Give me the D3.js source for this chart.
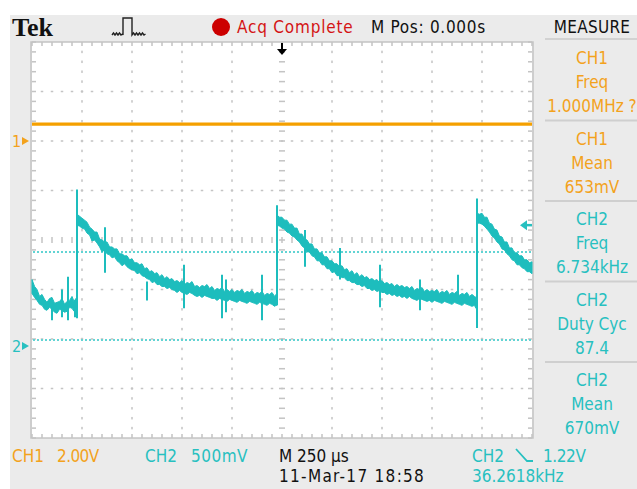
<!DOCTYPE html>
<html>
<head>
<meta charset="utf-8">
<script src="https://cdn.jsdelivr.net/npm/d3@7"></script>
<style>
  html, body { margin: 0; padding: 0; background: #fff; }
  svg { display: block; }
  text { font-family: "DejaVu Sans Condensed", "Liberation Sans Narrow", "DejaVu Sans", sans-serif; font-stretch: condensed; }
</style>
</head>
<body>
<svg id="scope" width="637" height="489"></svg>
<script>
// ---------------- DATA ----------------
// CH2 trace noise band: [time µs, low V, high V]
const ch2Band = [
  [-1250,0.53,0.67],[-1237,0.49,0.60],[-1225,0.46,0.57],[-1212,0.42,0.50],[-1200,0.41,0.52],[-1187,0.37,0.47],
  [-1175,0.36,0.44],[-1162,0.39,0.48],[-1150,0.37,0.49],[-1137,0.34,0.43],[-1125,0.33,0.44],[-1112,0.37,0.45],
  [-1100,0.36,0.48],[-1087,0.34,0.42],[-1075,0.35,0.45],[-1062,0.39,0.46],[-1050,0.38,0.50],[-1040,0.35,0.45],
  [-1030,0.37,0.48],[-1026,0.36,0.46],[-1025,1.22,1.33],[-1012,1.21,1.31],[-1000,1.19,1.29],[-987,1.18,1.27],
  [-975,1.14,1.25],[-962,1.12,1.20],[-950,1.06,1.18],[-937,1.07,1.15],[-925,1.04,1.15],[-912,1.00,1.08],
  [-900,0.95,1.07],[-887,0.97,1.05],[-875,0.93,1.05],[-862,0.92,1.00],[-850,0.89,1.00],[-837,0.90,0.98],
  [-825,0.86,0.98],[-812,0.84,0.93],[-800,0.81,0.93],[-787,0.83,0.91],[-775,0.80,0.91],[-762,0.78,0.87],
  [-750,0.77,0.88],[-737,0.76,0.84],[-725,0.73,0.84],[-712,0.74,0.82],[-700,0.71,0.83],[-687,0.70,0.78],
  [-675,0.68,0.79],[-662,0.67,0.75],[-650,0.64,0.76],[-637,0.65,0.73],[-625,0.62,0.74],[-612,0.62,0.70],
  [-600,0.60,0.72],[-587,0.60,0.68],[-575,0.58,0.70],[-562,0.59,0.67],[-550,0.57,0.68],[-537,0.56,0.65],
  [-525,0.54,0.66],[-512,0.56,0.64],[-500,0.54,0.66],[-487,0.53,0.62],[-475,0.52,0.64],[-462,0.54,0.63],
  [-450,0.53,0.65],[-437,0.51,0.60],[-425,0.50,0.61],[-412,0.51,0.59],[-400,0.49,0.61],[-387,0.51,0.60],
  [-375,0.50,0.62],[-362,0.49,0.58],[-350,0.48,0.60],[-337,0.48,0.56],[-325,0.46,0.58],[-312,0.48,0.57],
  [-300,0.47,0.59],[-287,0.46,0.55],[-275,0.45,0.57],[-262,0.47,0.55],[-250,0.46,0.57],[-237,0.45,0.54],
  [-225,0.44,0.56],[-212,0.46,0.55],[-200,0.45,0.57],[-187,0.44,0.53],[-175,0.43,0.55],[-162,0.45,0.54],
  [-150,0.44,0.56],[-137,0.43,0.52],[-125,0.42,0.54],[-112,0.44,0.53],[-100,0.43,0.55],[-87,0.42,0.51],
  [-75,0.41,0.53],[-62,0.43,0.52],[-50,0.42,0.54],[-37,0.40,0.50],[-30,0.41,0.52],[-26,0.41,0.50],
  [-25,1.22,1.32],[-12,1.21,1.30],[0,1.19,1.30],[12,1.18,1.27],[25,1.15,1.27],[37,1.14,1.23],
  [50,1.11,1.23],[62,1.10,1.19],[75,1.07,1.19],[87,1.05,1.13],[100,1.01,1.13],[112,0.99,1.08],
  [125,0.95,1.07],[137,0.95,1.03],[150,0.91,1.03],[162,0.90,0.98],[175,0.86,0.98],[187,0.86,0.94],
  [200,0.82,0.94],[212,0.82,0.90],[225,0.78,0.90],[237,0.78,0.86],[250,0.74,0.86],[262,0.75,0.83],
  [275,0.71,0.83],[287,0.71,0.80],[300,0.69,0.81],[312,0.69,0.77],[325,0.66,0.78],[337,0.66,0.74],
  [350,0.64,0.76],[362,0.64,0.72],[375,0.62,0.74],[387,0.62,0.70],[400,0.60,0.72],[412,0.61,0.69],
  [425,0.58,0.70],[437,0.58,0.67],[450,0.56,0.68],[462,0.57,0.66],[475,0.55,0.67],[487,0.56,0.64],
  [500,0.54,0.66],[512,0.54,0.63],[525,0.52,0.64],[537,0.53,0.62],[550,0.51,0.63],[562,0.52,0.60],
  [575,0.50,0.62],[587,0.51,0.60],[600,0.49,0.61],[612,0.50,0.59],[625,0.48,0.60],[637,0.50,0.58],
  [650,0.48,0.60],[662,0.47,0.56],[675,0.46,0.58],[687,0.48,0.57],[700,0.47,0.59],[712,0.46,0.55],
  [725,0.45,0.57],[737,0.46,0.55],[750,0.44,0.56],[762,0.46,0.55],[775,0.45,0.57],[787,0.44,0.53],
  [800,0.43,0.55],[812,0.45,0.54],[825,0.44,0.56],[837,0.43,0.52],[850,0.42,0.54],[862,0.44,0.53],
  [875,0.43,0.55],[887,0.42,0.51],[900,0.41,0.53],[912,0.43,0.52],[925,0.42,0.54],[937,0.41,0.50],
  [950,0.40,0.52],[962,0.41,0.50],[970,0.38,0.49],[974,0.40,0.48],[975,1.24,1.34],[987,1.24,1.33],
  [1000,1.23,1.34],[1012,1.21,1.30],[1025,1.18,1.30],[1037,1.15,1.24],[1050,1.11,1.23],[1062,1.09,1.18],
  [1075,1.05,1.17],[1087,1.03,1.11],[1100,0.98,1.10],[1112,0.97,1.05],[1125,0.93,1.05],[1137,0.91,0.99],
  [1150,0.87,0.99],[1162,0.86,0.94],[1175,0.82,0.94],[1187,0.82,0.91],[1200,0.79,0.91],[1212,0.78,0.87],
  [1225,0.75,0.87],[1237,0.75,0.84],[1250,0.73,0.85]
];
// CH2 glitches: [time µs, low V, high V]
const ch2Spikes = [
  [-1150,0.26,0.46],[-1100,0.29,0.57],[-1070,0.26,0.70],[-1035,0.29,0.46],[-1025,0.28,1.58],
  [-885,0.74,1.20],[-675,0.46,0.65],[-490,0.38,0.82],[-300,0.28,0.72],[-280,0.34,0.67],
  [-100,0.26,0.72],[-25,0.41,1.42],[115,0.80,1.17],[290,0.67,0.99],[490,0.39,0.82],
  [690,0.36,0.67],[880,0.43,0.72],[975,0.18,1.49]
];
// CH1 trace level (V) across the screen
const ch1Trace = [[-1250,0.68],[1250,0.68]];
// CH2 cursor levels (V)
const ch2Cursors = [0.95, 0.06];
const ch2TriggerLevel = 1.22;
// channel settings
const ch1VoltsPerDiv = 2.0, ch1OffsetDiv = 2.0;
const ch2VoltsPerDiv = 0.5, ch2OffsetDiv = -2.14;
const timePerDiv = 250;

// measurement panel
const measureBoxes = [
  {ch: "CH1", lines: ["CH1", "Freq", "1.000MHz ?"]},
  {ch: "CH1", lines: ["CH1", "Mean", "653mV"]},
  {ch: "CH2", lines: ["CH2", "Freq", "6.734kHz"]},
  {ch: "CH2", lines: ["CH2", "Duty Cyc", "87.4"]},
  {ch: "CH2", lines: ["CH2", "Mean", "670mV"]}
];
const topLabels = {tek: "Tek", acq: "Acq Complete", mpos: "M Pos: 0.000s", measure: "MEASURE"};
const bottomLabels = [
  {text: "CH1", x: 12, row: 0, ch: "CH1", ls: 0}, {text: "2.00V", x: 57, row: 0, ch: "CH1", ls: -0.6},
  {text: "CH2", x: 145, row: 0, ch: "CH2", ls: 0}, {text: "500mV", x: 191, row: 0, ch: "CH2", ls: 0.5},
  {text: "M 250 µs", x: 279, row: 0, ch: "K", ls: 0}, {text: "11-Mar-17 18:58", x: 279, row: 1, ch: "K", ls: 1.3},
  {text: "CH2", x: 472, row: 0, ch: "CH2", ls: 0}, {text: "1.22V", x: 543, row: 0, ch: "CH2", ls: -0.4},
  {text: "36.2618kHz", x: 472, row: 1, ch: "CH2", ls: 0}
];

// ---------------- STYLE ----------------
const COL = {CH1: "#f3a21c", CH2: "#27c0c0", K: "#111", bg: "#ebebeb", grid: "#c4c4c4"};
const TRACE1 = "#f5a000", TRACE2 = "#1dbdbd", CURSOR2 = "#62d4d4";

const svg = d3.select("#scope");
const W = 637, H = 489;
const L = 32, R = 532, T = 42, B = 438;

svg.append("rect").attr("width", W).attr("height", H).attr("fill", "#fff");
svg.append("rect").attr("x", 10).attr("y", 15).attr("width", W - 10).attr("height", H - 15).attr("fill", COL.bg);

// scales
const xDiv = d3.scaleLinear().domain([-5, 5]).range([L, R]);
const yDiv = d3.scaleLinear().domain([-4, 4]).range([B, T]);
const xT = d3.scaleLinear().domain([-5 * timePerDiv, 5 * timePerDiv]).range([L, R]);
const y2 = v => yDiv(v / ch2VoltsPerDiv + ch2OffsetDiv);
const y1 = v => yDiv(v / ch1VoltsPerDiv + ch1OffsetDiv);

// graticule
svg.append("rect").attr("x", L).attr("y", T).attr("width", R - L).attr("height", B - T).attr("fill", "#fff");
const g = svg.append("g");
const minorX = d3.range(-5, 5.0001, 0.2);
const minorY = d3.range(-4, 4.0001, 0.2);
d3.range(-4, 5).filter(d => d !== 0).forEach(d => {
  g.selectAll(null).data(minorY.slice(1, -1)).enter().append("rect")
    .attr("x", xDiv(d) - 0.75).attr("y", v => yDiv(v) - 1.25).attr("width", 1.5).attr("height", 2.5).attr("fill", COL.grid);
});
d3.range(-3, 4).filter(d => d !== 0).forEach(d => {
  g.selectAll(null).data(minorX.slice(1, -1)).enter().append("rect")
    .attr("y", yDiv(d) - 0.75).attr("x", v => xDiv(v) - 1.25).attr("height", 1.5).attr("width", 2.5).attr("fill", COL.grid);
});
g.selectAll(null).data(minorY.slice(1, -1)).enter().append("rect")
  .attr("x", xDiv(0) - 3).attr("y", v => yDiv(v) - 0.75).attr("width", 6).attr("height", 1.5).attr("fill", COL.grid);
g.selectAll(null).data(minorX.slice(1, -1)).enter().append("rect")
  .attr("y", yDiv(0) - 3).attr("x", v => xDiv(v) - 0.75).attr("height", 6).attr("width", 1.5).attr("fill", COL.grid);
g.selectAll(null).data(minorX).enter().append("rect")
  .attr("x", v => xDiv(v) - 0.75).attr("y", T).attr("width", 1.5).attr("height", 4).attr("fill", COL.grid);
g.selectAll(null).data(minorX).enter().append("rect")
  .attr("x", v => xDiv(v) - 0.75).attr("y", B - 4).attr("width", 1.5).attr("height", 4).attr("fill", COL.grid);
g.selectAll(null).data(minorY).enter().append("rect")
  .attr("x", L).attr("y", v => yDiv(v) - 0.75).attr("width", 4).attr("height", 1.5).attr("fill", COL.grid);
g.selectAll(null).data(minorY).enter().append("rect")
  .attr("x", R - 4).attr("y", v => yDiv(v) - 0.75).attr("width", 4).attr("height", 1.5).attr("fill", COL.grid);
svg.append("rect").attr("x", L - 1).attr("y", T).attr("width", R - L + 2).attr("height", B - T)
  .attr("fill", "none").attr("stroke", "#c4c4c4").attr("stroke-width", 1.5);

// CH2 cursors
svg.selectAll(".cur").data(ch2Cursors).enter().append("line")
  .attr("x1", L + 1).attr("x2", R).attr("y1", v => y2(v)).attr("y2", v => y2(v))
  .attr("stroke", CURSOR2).attr("stroke-width", 2).attr("stroke-dasharray", "2,2");

// CH1 trace
svg.append("path").datum(ch1Trace)
  .attr("d", d3.line().x(d => xT(d[0])).y(d => y1(d[1])))
  .attr("stroke", TRACE1).attr("stroke-width", 3.2).attr("fill", "none");

// CH2 trace (noise band + glitches)
svg.append("path").datum(ch2Band)
  .attr("d", d3.area().x(d => xT(d[0])).y0(d => y2(d[1])).y1(d => y2(d[2])))
  .attr("fill", TRACE2).attr("stroke", TRACE2).attr("stroke-width", 1).attr("stroke-linejoin", "round");
svg.selectAll(".spk").data(ch2Spikes).enter().append("line")
  .attr("x1", d => xT(d[0])).attr("x2", d => xT(d[0]))
  .attr("y1", d => y2(d[1])).attr("y2", d => y2(d[2]))
  .attr("stroke", TRACE2).attr("stroke-width", 2);

// ground markers
function marker(label, yy, col) {
  svg.append("text").attr("x", 12).attr("y", yy + 6).attr("fill", col).attr("font-size", 16).text(label);
  svg.append("path").attr("d", `M22,${yy - 4} L29,${yy} L22,${yy + 4} Z`).attr("fill", col);
}
marker("1", y1(0), COL.CH1);
marker("2", y2(0), COL.CH2);

// trigger level arrow (right)
const ty = y2(ch2TriggerLevel);
svg.append("path").attr("d", `M520,${ty} L527,${ty - 5} L527,${ty + 5} Z`).attr("fill", COL.CH2);
svg.append("line").attr("x1", 526).attr("x2", 532).attr("y1", ty).attr("y2", ty).attr("stroke", COL.CH2).attr("stroke-width", 2.5);

// trigger position arrow (top)
const tx = xT(0);
svg.append("line").attr("x1", tx).attr("x2", tx).attr("y1", 43).attr("y2", 50).attr("stroke", "#000").attr("stroke-width", 2);
svg.append("path").attr("d", `M${tx - 5},49 L${tx + 5},49 L${tx},55 Z`).attr("fill", "#000");

// top bar
svg.append("text").attr("x", 12).attr("y", 36)
  .style("font-family", "'Liberation Serif', 'DejaVu Serif', serif").style("font-stretch", "normal")
  .attr("font-weight", "bold").attr("font-size", 26).attr("fill", "#111").text(topLabels.tek);
svg.append("path")
  .attr("d", "M112,35 l1.5,-2 l1.5,2 l1.5,-2 l1.5,2 l1.5,-2 l1.5,2 l1.5,-1 L123,35 L123,18 L132,18 L132,35 l1.5,-2 l1.5,2 l1.5,-2 l1.5,2 l1.5,-2 l1.5,2 l1.5,-2 l1.5,2 l1.5,-1")
  .attr("fill", "none").attr("stroke", "#222").attr("stroke-width", 1.4);
svg.append("circle").attr("cx", 221).attr("cy", 27).attr("r", 9).attr("fill", "#cc0000");
svg.append("text").attr("x", 237).attr("y", 33).attr("font-size", 17).attr("letter-spacing", 0.8).attr("fill", "#d41414").text(topLabels.acq);
svg.append("text").attr("x", 371).attr("y", 33).attr("font-size", 17).attr("letter-spacing", 0.7).attr("fill", "#111").text(topLabels.mpos);
svg.append("text").attr("x", 592).attr("y", 33).attr("text-anchor", "middle").attr("font-size", 17).attr("letter-spacing", 0.3).attr("fill", "#111").text(topLabels.measure);

// measure panel
svg.append("line").attr("x1", 545).attr("x2", 637).attr("y1", 39).attr("y2", 39).attr("stroke", "#d2d2d2").attr("stroke-width", 2);
measureBoxes.forEach((b, i) => {
  const top = 40 + i * 80.5;
  if (i > 0) svg.append("line").attr("x1", 545).attr("x2", 637).attr("y1", top).attr("y2", top)
    .attr("stroke", "#cfcfcf").attr("stroke-width", 2);
  b.lines.forEach((t, j) => {
    svg.append("text").attr("x", 592).attr("y", top + 24 + j * 24).attr("text-anchor", "middle")
      .attr("font-size", 17).attr("fill", COL[b.ch]).text(t);
  });
});

// bottom bar
svg.selectAll(".bl").data(bottomLabels).enter().append("text")
  .attr("x", d => d.x).attr("y", d => 462 + d.row * 20).attr("letter-spacing", d => d.ls)
  .attr("font-size", 17).attr("fill", d => COL[d.ch]).text(d => d.text);
// falling-edge trigger symbol
svg.append("path").attr("d", "M516,449 L527,461 L533,461").attr("fill", "none").attr("stroke", COL.CH2).attr("stroke-width", 1.8);
</script>
</body>
</html>
